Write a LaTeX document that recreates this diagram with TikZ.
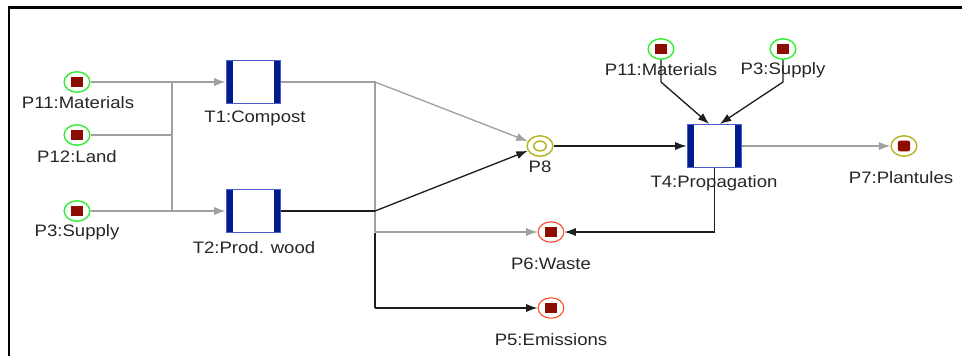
\documentclass[tikz,border=0pt]{standalone}
\usepackage{fontspec}
\setmainfont{Liberation Sans}[FakeStretch=1.12]
\usetikzlibrary{shapes.geometric,arrows.meta}
\definecolor{arcgray}{HTML}{A0A0A0}
\definecolor{arcblack}{HTML}{1E1E1E}
\definecolor{placegreen}{HTML}{33EE33}
\definecolor{placered}{HTML}{FF4422}
\definecolor{placeolive}{HTML}{B4B41E}
\definecolor{tokenred}{HTML}{8B0E00}
\definecolor{tnavy}{HTML}{001C8C}
\definecolor{tblue}{HTML}{4A5CC8}
\tikzset{
  place/.style={ellipse,draw=placegreen,line width=0.8pt,fill=white,
    minimum width=14.6pt,minimum height=11.6pt,inner sep=0pt},
  outplace/.style={place,draw=placered,line width=0.6pt},
  token/.style={path picture={\fill[tokenred]
    ([xshift=-3.5pt,yshift=-2.7pt]path picture bounding box.center) rectangle
    ([xshift=3.5pt,yshift=2.7pt]path picture bounding box.center);}},
  trans/.style={rectangle,draw=tblue,line width=0.6pt,fill=white,
    minimum width=31pt,minimum height=24.4pt,inner sep=0pt,
    path picture={
      \fill[tnavy] (path picture bounding box.north west) rectangle
        ([xshift=4pt]path picture bounding box.south west);
      \fill[tnavy] ([xshift=-4pt]path picture bounding box.north east) rectangle
        (path picture bounding box.south east);}},
  lbl/.style={font=\fontsize{9.4}{10}\selectfont,text=black!85,inner sep=0pt},
  gry/.style={draw=arcgray,line width=0.75pt},
  blk/.style={draw=arcblack,line width=0.75pt},
  arr/.style={-{Latex[length=6.5pt,width=4.6pt]}},
}
\begin{document}
\begin{tikzpicture}[x=0.567pt,y=-0.567pt]
\useasboundingbox (0,0) rectangle (962,356);
\draw[line width=1.7pt] (9,356) -- (9,7) -- (962,7);
% places
\node[place,token] (P11) at (77,82) {};
\node[place,token] (P12) at (77,135) {};
\node[place,token] (P3) at (77,211) {};
\node[place,token] (P11t) at (661,49) {};
\node[place,token] (P3t) at (783,49) {};
\node[place,draw=placeolive,
  path picture={\draw[placeolive,line width=0.8pt]
    (path picture bounding box.center) ellipse (3.6pt and 2.8pt);}] (P8) at (540,146) {};
\node[outplace,token] (P6) at (551,232) {};
\node[outplace,token] (P5) at (551,308) {};
\node[place,draw=placeolive,
  path picture={\fill[tokenred,rounded corners=1.2pt]
    ([xshift=-3.5pt,yshift=-3pt]path picture bounding box.center) rectangle
    ([xshift=3.5pt,yshift=3pt]path picture bounding box.center);}] (P7) at (904,146) {};
% transitions
\node[trans] (T1) at (253.5,82) {};
\node[trans] (T2) at (253.5,211) {};
\node[trans] (T4) at (714.5,146) {};
% bends
\coordinate (jL) at (172,82);
\coordinate (k1) at (375,82);
\coordinate (k2) at (375,211);
\coordinate (k3) at (375,232);
\coordinate (k4) at (375,233);
\coordinate (k5) at (375,308);
\coordinate (m1) at (661,82);
\coordinate (m2) at (783,82);
\coordinate (m3) at (714.5,232);
% arcs
\draw[gry,arr] (P11) -- (T1);
\draw[gry] (P12) -- (P12 -| jL);
\draw[gry] (jL) -- (jL |- P3);
\draw[gry,arr] (P3) -- (T2);
\draw[gry] (T1) -- (k1) -- (k3);
\draw[gry,arr] (k1) -- (P8);
\draw[gry,arr] (k3) -- (P6);
\draw[blk] (T2) -- (k2);
\draw[blk,arr] (k2) -- (P8);
\draw[blk] (k4) -- (k5);
\draw[blk,arr] (k5) -- (P5);
\draw[blk,arr] (P8) -- (T4);
\draw[blk,arr] (P11t) -- (m1) -- ([xshift=-3pt]T4.north);
\draw[blk,arr] (P3t) -- (m2) -- ([xshift=3pt]T4.north);
\draw[gry,arr] (T4) -- (P7);
\draw[blk] (T4) -- (m3);
\draw[blk,arr] (m3) -- (P6);
% labels
\node[lbl] (T1l) at (255,118) {T1:Compost};
\node[lbl] (T2l) at (254,248) {T2:Prod. wood};
\node[lbl] (T4l) at (714,183) {T4:Propagation};
\node[lbl] (P11l) at (78,103) {P11:Materials};
\node[lbl] (P12l) at (77,157) {P12:Land};
\node[lbl] (P3l) at (77,232) {P3:Supply};
\node[lbl] (P11tl) at (661,70) {P11:Materials};
\node[lbl] (P3tl) at (783,70) {P3:Supply};
\node[lbl] (P8l) at (540,167) {P8};
\node[lbl] (P6l) at (551,264) {P6:Waste};
\node[lbl] (P5l) at (551,340) {P5:Emissions};
\node[lbl] (P7l) at (901,178) {P7:Plantules};
\end{tikzpicture}
\end{document}
